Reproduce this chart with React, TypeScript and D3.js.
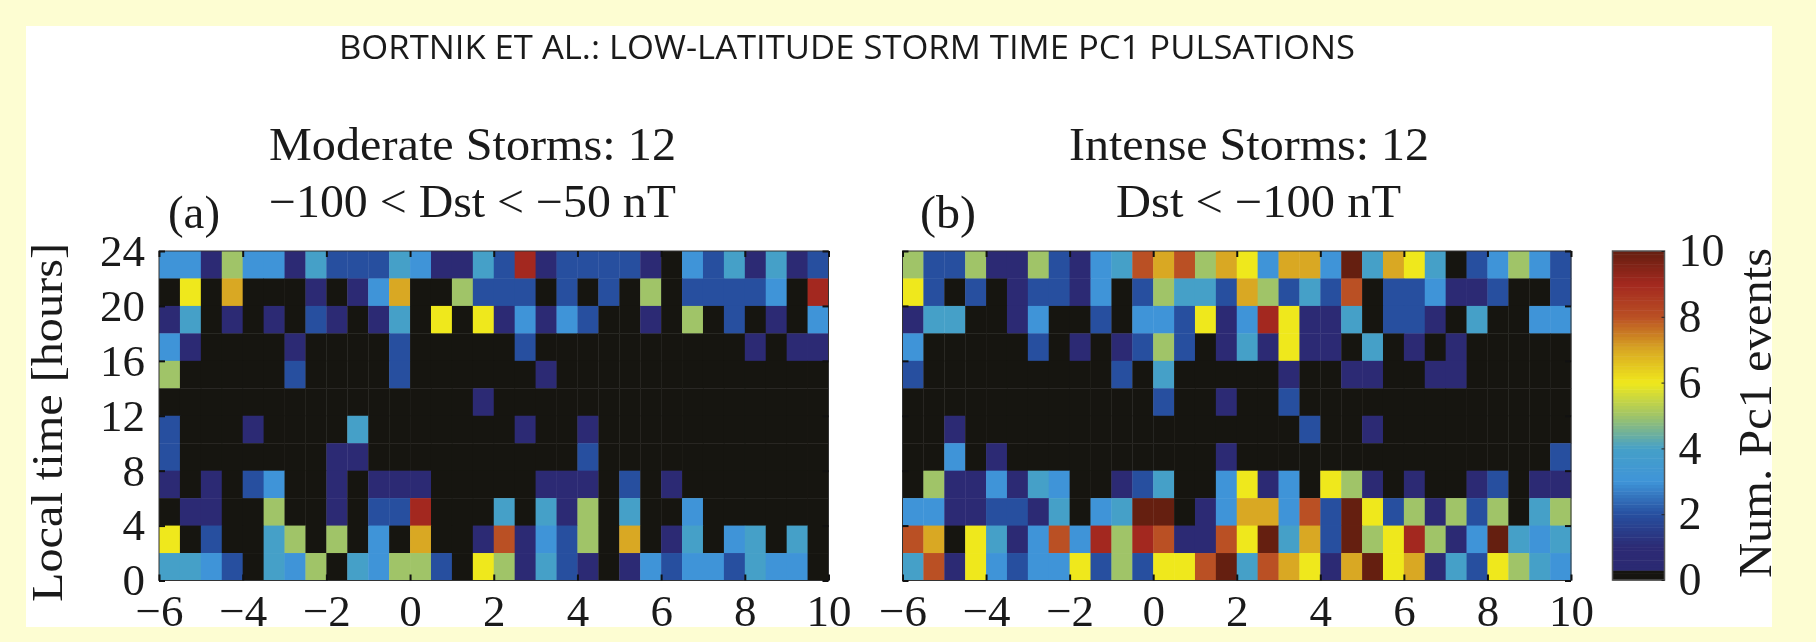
import React, { useEffect, useRef } from "react";
import * as d3 from "d3";

const timeBins = d3.range(-6, 10, 0.5);
const hourBins = [22, 20, 18, 16, 14, 12, 10, 8, 6, 4, 2, 0];

const moderate = [
  [3,3,1,5,3,3,1,4,2,2,2,4,3,1,1,4,2,9,1,2,2,2,2,1,0,3,2,4,1,4,1,2],
  [0,6,0,7,0,0,0,1,0,1,3,7,0,0,5,2,2,2,0,2,0,2,0,5,0,2,2,2,2,3,0,9],
  [1,4,0,1,0,1,0,2,1,0,1,4,0,6,0,6,1,3,1,3,2,0,0,1,0,5,0,2,0,1,0,3],
  [3,1,0,0,0,0,1,0,0,0,0,2,0,0,0,0,0,2,0,0,0,0,0,0,0,0,0,0,1,0,1,1],
  [5,0,0,0,0,0,2,0,0,0,0,2,0,0,0,0,0,0,1,0,0,0,0,0,0,0,0,0,0,0,0,0],
  [0,0,0,0,0,0,0,0,0,0,0,0,0,0,0,1,0,0,0,0,0,0,0,0,0,0,0,0,0,0,0,0],
  [2,0,0,0,1,0,0,0,0,4,0,0,0,0,0,0,0,1,0,0,1,0,0,0,0,0,0,0,0,0,0,0],
  [2,0,0,0,0,0,0,0,1,1,0,0,0,0,0,0,0,0,0,0,2,0,0,0,0,0,0,0,0,0,0,0],
  [1,0,1,0,2,3,0,0,1,0,1,1,1,0,0,0,0,0,1,1,1,0,2,0,1,0,0,0,0,0,0,0],
  [0,1,1,0,0,5,0,0,1,0,2,2,9,0,0,0,4,0,4,1,5,0,4,0,0,3,0,0,0,0,0,0],
  [6,0,2,0,0,4,5,0,5,0,3,0,7,0,0,1,8,1,3,2,5,0,7,0,1,4,0,3,4,0,4,0],
  [4,4,3,2,0,4,3,5,0,4,3,5,5,2,0,6,5,1,4,2,1,0,1,3,2,3,3,2,4,3,3,0],
];

const intense = [
  [5,2,2,5,1,1,5,2,1,3,4,8,7,8,5,7,6,3,7,7,3,10,4,7,6,4,0,2,3,5,3,2],
  [6,2,0,2,0,1,2,2,1,3,0,2,5,4,4,2,7,5,2,4,2,8,0,2,2,3,1,1,2,0,0,2],
  [1,4,4,0,0,1,3,0,0,2,0,3,3,2,6,1,3,9,6,1,1,4,0,2,2,1,0,4,0,0,3,3],
  [3,0,0,0,0,0,2,0,1,0,1,2,5,2,0,1,4,1,6,1,1,0,4,0,1,0,1,0,0,0,0,0],
  [2,0,0,0,0,0,0,0,0,0,2,0,4,0,0,0,0,0,1,0,0,1,1,0,0,1,1,0,0,0,0,0],
  [0,0,0,0,0,0,0,0,0,0,0,0,2,0,0,1,0,0,2,0,0,0,0,0,0,0,0,0,0,0,0,0],
  [0,0,1,0,0,0,0,0,0,0,0,0,0,0,0,0,0,0,0,2,0,0,1,0,0,0,0,0,0,0,0,0],
  [0,0,3,0,1,0,0,0,0,0,0,0,0,0,0,1,0,0,0,0,0,0,0,0,0,0,0,0,0,0,0,2],
  [0,5,1,1,3,1,4,3,0,0,1,2,4,0,0,3,6,1,3,0,6,5,1,0,1,0,0,1,2,0,1,1],
  [3,3,1,1,2,2,1,4,0,3,4,10,10,0,1,3,7,7,3,8,2,10,6,2,5,1,5,2,5,0,4,5],
  [8,7,0,6,4,1,3,8,3,9,5,9,8,1,1,8,6,10,4,7,2,10,5,6,9,5,1,3,10,4,3,4],
  [4,8,1,6,3,2,3,3,6,2,5,2,6,6,8,10,4,8,7,6,1,7,10,6,7,1,4,2,6,5,4,3],
];

const xTicks = [-6, -4, -2, 0, 2, 4, 6, 8, 10];
const yTicks = [0, 4, 8, 12, 16, 20, 24];
const barTicks = [0, 2, 4, 6, 8, 10];
const stopValues = [0, 1, 2, 3, 4, 5, 6, 7, 8, 9, 10];
const stopColors = ["#2b2a72", "#2c2a74", "#274f9f", "#3f94d8", "#45a0c8", "#a0c468", "#efe81c", "#d9a823", "#ba5024", "#a3281f", "#651f10"];

const serif = "'Liberation Serif', serif";
const ZERO = "#161510";
const color = d3.scaleLinear<string>().domain(stopValues).range(stopColors).interpolate(d3.interpolateRgb);
const fmt = (d: number) => String(d).replace("-", "\u2212");

export default function App() {
  const ref = useRef<SVGSVGElement>(null);
  useEffect(() => {
    const svg = d3.select(ref.current);
    svg.selectAll("*").remove();
    svg.append("rect").attr("width", 1816).attr("height", 642).attr("fill", "#fdfdd2");
    svg.append("rect").attr("x", 26).attr("y", 26).attr("width", 1746).attr("height", 601).attr("fill", "#fff");

    const text = (s: string, x: number, y: number, size: number, len: number, family = serif) =>
      svg.append("text").attr("x", x).attr("y", y).attr("font-family", family).attr("font-size", size)
        .attr("fill", "#1a1a1a").attr("textLength", len).attr("lengthAdjust", "spacingAndGlyphs").text(s);

    text("BORTNIK ET AL.: LOW-LATITUDE STORM TIME PC1 PULSATIONS", 339, 59, 33, 1016, "'Open Sans', sans-serif");
    text("Moderate Storms: 12", 269, 160, 46, 407);
    text("\u2212100 < Dst < \u221250 nT", 269, 217, 46, 407);
    text("(a)", 168, 228, 46, 52);
    text("Intense Storms: 12", 1069, 160, 46, 360);
    text("Dst < \u2212100 nT", 1116, 217, 46, 285);
    text("(b)", 920, 228, 46, 56);

    const panel = (data: number[][], x0: number, x1: number, left: boolean) => {
      const x = d3.scaleLinear().domain([-6, 10]).range([x0, x1]);
      const y = d3.scaleLinear().domain([0, 24]).range([580.5, 251]);
      const g = svg.append("g");
      data.forEach((row, r) => {
        row.forEach((v, c) => {
          g.append("rect")
            .attr("x", x(timeBins[c]))
            .attr("y", y(hourBins[r] + 2))
            .attr("width", x(timeBins[c] + 0.5) - x(timeBins[c]) + 0.4)
            .attr("height", y(hourBins[r]) - y(hourBins[r] + 2) + 0.4)
            .attr("fill", v === 0 ? ZERO : color(v));
        });
      });
      g.append("rect").attr("x", x0).attr("y", 251).attr("width", x1 - x0).attr("height", 329.5)
        .attr("fill", "none").attr("stroke", "#333").attr("stroke-width", 1);

      const style = (a: d3.Selection<any, any, any, any>, size: number) => {
        a.select(".domain").remove();
        a.selectAll("line").attr("stroke", "#111").attr("stroke-width", 2);
        a.selectAll("text").attr("font-family", serif).attr("font-size", size).attr("fill", "#1a1a1a");
      };
      const bottom = svg.append("g").attr("transform", "translate(0,580.5)")
        .call(d3.axisBottom(x).tickValues(xTicks).tickFormat(fmt as any).tickSizeInner(-6).tickPadding(14) as any);
      style(bottom, 45);
      bottom.selectAll("text").attr("dy", "0.71em");
      const top = svg.append("g").attr("transform", "translate(0,251)")
        .call(d3.axisTop(x).tickValues(xTicks).tickFormat(() => "").tickSizeInner(-6) as any);
      style(top, 45);
      const sideL = svg.append("g").attr("transform", `translate(${x0},0)`)
        .call(d3.axisLeft(y).tickValues(yTicks).tickFormat(left ? (fmt as any) : () => "").tickSizeInner(-6).tickPadding(14) as any);
      style(sideL, 45);
      const sideR = svg.append("g").attr("transform", `translate(${x1},0)`)
        .call(d3.axisRight(y).tickValues(yTicks).tickFormat(() => "").tickSizeInner(-6) as any);
      style(sideR, 45);
    };
    panel(moderate, 159, 828.5, true);
    panel(intense, 902.5, 1571, false);

    svg.append("text").attr("transform", "translate(62,602) rotate(-90)")
      .attr("font-family", serif).attr("font-size", 44).attr("fill", "#1a1a1a")
      .attr("textLength", 359).attr("lengthAdjust", "spacingAndGlyphs").text("Local time [hours]");

    // colour bar
    const by = d3.scaleLinear().domain([0, 10]).range([580, 251]);
    const steps = d3.range(0, 10, 0.1);
    svg.append("g").selectAll("rect").data(steps).join("rect")
      .attr("x", 1612.5).attr("width", 52)
      .attr("y", (d) => by(d + 0.1))
      .attr("height", by(0) - by(0.1) + 0.5)
      .attr("fill", (d) => (d < 0.29 ? ZERO : color(d + 0.05)));
    svg.append("rect").attr("x", 1612.5).attr("y", 251).attr("width", 52).attr("height", 329)
      .attr("fill", "none").attr("stroke", "#555").attr("stroke-width", 1.5);
    const barAxis = svg.append("g").attr("transform", "translate(1664.5,0)")
      .call(d3.axisRight(by).tickValues(barTicks).tickFormat(fmt as any).tickSizeInner(-3).tickPadding(14) as any);
    barAxis.select(".domain").remove();
    barAxis.selectAll("line").attr("stroke", "#222");
    barAxis.selectAll("text").attr("font-family", serif).attr("font-size", 46).attr("fill", "#1a1a1a");

    svg.append("text").attr("transform", "translate(1771,578) rotate(-90)")
      .attr("font-family", serif).attr("font-size", 46).attr("fill", "#1a1a1a")
      .attr("textLength", 330).attr("lengthAdjust", "spacingAndGlyphs").text("Num. Pc1 events");
  }, []);
  return (
    <svg ref={ref} width={1816} height={642}
      style={{ position: "absolute", left: 0, top: 0, filter: "blur(0.7px)" }} />
  );
}
